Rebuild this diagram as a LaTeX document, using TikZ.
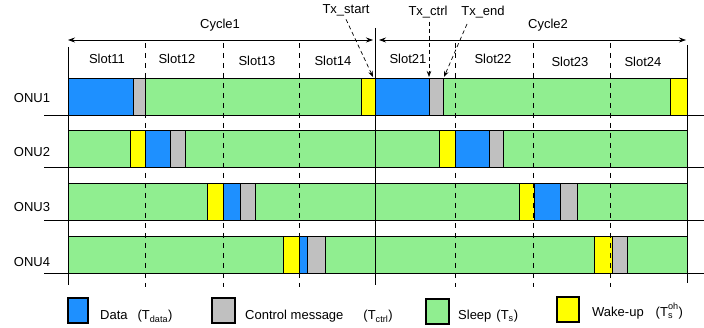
\documentclass[tikz,border=0pt]{standalone}
\usepackage{fontspec}
\setmainfont{Liberation Sans}
\usetikzlibrary{arrows.meta}
\definecolor{datablue}{HTML}{1E90FF}
\definecolor{ctrlgray}{HTML}{C0C0C0}
\definecolor{sleepgreen}{HTML}{90EE90}
\definecolor{wakeyellow}{HTML}{FFFF00}

\begin{document}
\begin{tikzpicture}[x=1pt,y=-1pt,font=\fontsize{13}{15}\selectfont]
  \tikzset{seg style/.style = {draw=black, line width=0.8pt},
           slot line/.style = {dash pattern=on 5pt off 5pt, line width=0.8pt},
           tx arrow/.style = {-{Stealth[length=6pt,width=4.5pt]}, dash pattern=on 4pt off 3pt, line width=0.7pt},
           cycle arrow/.style = {{Stealth[length=7pt,width=5pt]}-{Stealth[length=7pt,width=5pt]}, line width=0.7pt},
           key box/.style = {draw=black, line width=1.3pt}}
  \useasboundingbox (0,0) rectangle (704,328);

  \foreach \t/\ly/\segs [count=\i] in {
      78/98/{68/133/datablue,133/145/ctrlgray,361/375/wakeyellow,375/429/datablue,429/443/ctrlgray,670/687/wakeyellow},
      130.5/152/{130/145/wakeyellow,145/170/datablue,170/185/ctrlgray,439/455/wakeyellow,455/489/datablue,489/503/ctrlgray},
      183/207/{207/223/wakeyellow,223/240/datablue,240/255/ctrlgray,519/534/wakeyellow,534/560/datablue,560/577/ctrlgray},
      236/262/{283/299/wakeyellow,299/307/datablue,307/325/ctrlgray,594/612/wakeyellow,612/627/ctrlgray}}{
    \draw[seg style, fill=sleepgreen] (68,\t) rectangle (687,\t+37);
    \foreach \a/\b/\c in \segs
      \draw[seg style, fill=\c] (\a,\t) rectangle (\b,\t+37);
    \draw[line width=0.8pt] (44,\t+37) -- (704,\t+37);
    \node (onu\i) at (32,\ly) {ONU\i};
  }

  \foreach \x in {145,223,299,455,533,610}
    \draw[slot line] (\x,43) -- (\x,287);
  \draw[line width=0.8pt] (68,47) -- (68,285);
  \draw[line width=0.8pt] (375,28) -- (375,285);
  \draw[line width=0.8pt] (687,45) -- (687,283);

  \coordinate (c1l) at (68,40);
  \coordinate (c1r) at (373,40);
  \coordinate (c2l) at (379,40);
  \coordinate (c2r) at (686,40);
  \draw[cycle arrow] (c1l) -- (c1r);
  \draw[cycle arrow] (c2l) -- (c2r);
  \node (cycle1) at (220,25) {Cycle1};
  \node (cycle2) at (548,25) {Cycle2};

  \foreach \n/\x/\y in {11/107/59,12/177/59,13/257/61,14/333/61,21/408/59,22/493/59,23/570/62,24/643/62}
    \node (slot\n) at (\x,\y) {Slot\n};

  \node (txstart) at (346,10) {Tx\_start};
  \node (txctrl) at (428,12) {Tx\_ctrl};
  \node (txend) at (483,12) {Tx\_end};
  \coordinate (pstart) at (373,77);
  \coordinate (pctrl) at (429,77);
  \coordinate (pendtail) at (467,24);
  \coordinate (pend) at (444,77);
  \draw[tx arrow] (txstart.south) -- (pstart);
  \draw[tx arrow] (pctrl |- txctrl.south) -- (pctrl);
  \draw[tx arrow] (pendtail) -- (pend);

  \draw[key box, fill=datablue] (68,298) rectangle (88,323);
  \node[anchor=base west, inner sep=0pt] (keydata) at (100,320) {Data\hspace{10pt}(T\textsubscript{data})};
  \draw[key box, fill=ctrlgray] (212,298) rectangle (235,323);
  \node[anchor=base west, inner sep=0pt] (keyctrl) at (245,320) {Control message\hspace{20pt}(T\textsubscript{ctrl})};
  \draw[key box, fill=sleepgreen] (426,299) rectangle (449,324);
  \node[anchor=base west, inner sep=0pt] (keysleep) at (458,320) {Sleep\hspace{5pt}(T\textsubscript{s})};
  \draw[key box, fill=wakeyellow] (557,297) rectangle (579,322);
  \node[anchor=base west, inner sep=0pt] (keywake) at (592,317) {Wake-up\hspace{12pt}(T\rlap{\textsubscript{s}}\raisebox{3pt}{\textsuperscript{oh}})};
\end{tikzpicture}
\end{document}
